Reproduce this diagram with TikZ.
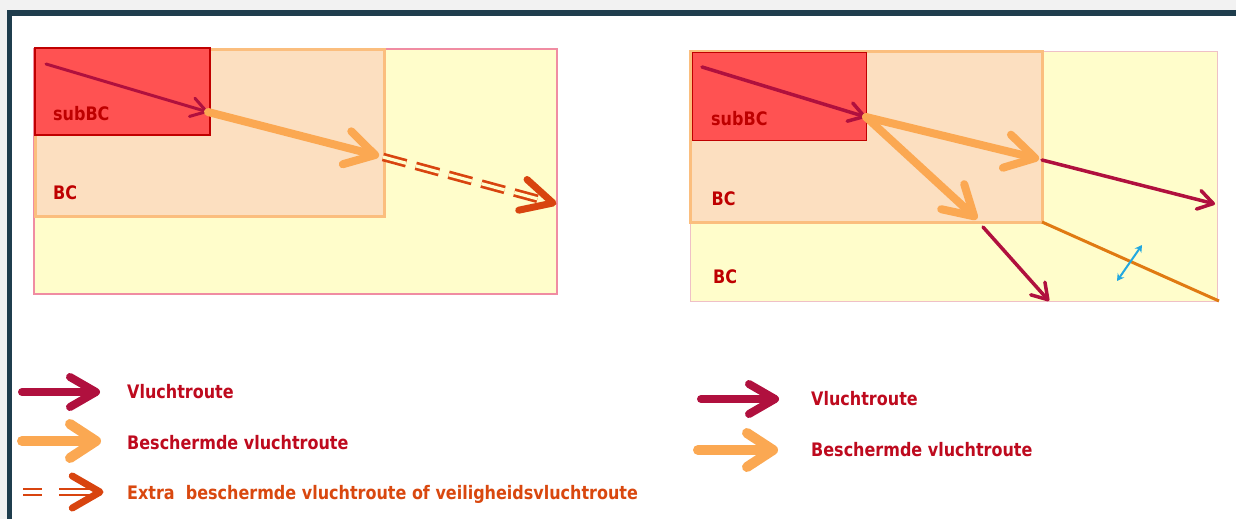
\documentclass[tikz,border=0pt]{standalone}
\usepackage{fontspec}
\setmainfont{DejaVu Sans}[FakeStretch=0.86]
\usetikzlibrary{arrows.meta,calc}
\definecolor{bgGray}{HTML}{F2F2F2}
\definecolor{frameC}{HTML}{1F3D4D}
\definecolor{yel}{HTML}{FFFDCB}
\definecolor{pinkB}{HTML}{F08CA2}
\definecolor{pinkB2}{HTML}{EFC0C6}
\definecolor{peach}{HTML}{FCDFC0}
\definecolor{peachB}{HTML}{FBBE7E}
\definecolor{redF}{HTML}{FF5252}
\definecolor{redB}{HTML}{C00000}
\definecolor{crimC}{HTML}{B0103E}
\definecolor{orC}{HTML}{FBA852}
\definecolor{extraC}{HTML}{D8440F}
\definecolor{lineO}{HTML}{E07A12}
\definecolor{cyanC}{HTML}{22A8E0}
\definecolor{labC}{HTML}{BE0000}
\definecolor{legC}{HTML}{BE0A1E}
\definecolor{legE}{HTML}{D9480F}
\tikzset{
  route/.style n args={4}{draw=#1,line width=#2,line cap=round,-{Straight Barb[round,length=#3,width=#4]}},
  lab/.style={anchor=base west,inner sep=0pt,text=labC,font=\fontsize{18.6}{22}\selectfont\bfseries},
  leg/.style={anchor=base west,inner sep=0pt,text=legC,font=\fontsize{18.6}{22}\selectfont\bfseries},
  dbl/.style={draw=extraC,line width=2.7pt,double distance=3.2pt},
  chev/.style={draw=extraC,line width=7pt,line cap=round,line join=round},
  yelbox/.style={fill=yel,draw=pinkB,line width=1.5pt},
  peachbox/.style={fill=peach,draw=peachB,line width=3pt},
  redbox/.style={fill=redF,draw=redB,line width=2.5pt}
}
\begin{document}
\begin{tikzpicture}[x=1pt,y=-1pt]
\useasboundingbox (0,0) rectangle (1236,519);
\fill[bgGray] (0,0) rectangle (1236,519);
\fill[frameC] (7,10) rectangle (1236,519);
\fill[white] (12,16) rectangle (1236,519);

% ---------- left diagram ----------
\draw[yelbox] (34,49) rectangle (557,294);
\draw[peachbox] (35,50) rectangle (384,216);
\draw[redbox] (35,48) rectangle (210,135);
\node[lab] (lsub) at (53,120.7) {subBC};
\node[lab] (lbc) at (53,199.3) {BC};

\coordinate (l1) at (46,64);
\coordinate (l2) at (208,112);
\coordinate (l3) at (379,156);
\coordinate (l4) at (383,157);
\coordinate (l5) at (553,203);
\draw[route={crimC}{3pt}{15pt}{19pt}] (l1) -- (l2);
\draw[route={orC}{8pt}{29pt}{34pt}] (l2) -- (l3);
\draw[dbl,double=yel,dash pattern=on 24pt off 10pt] (l4) -- ($(l5)!3pt!(l4)$);
\draw[chev] ($(l5)!35pt!27:(l4)$) -- (l5) -- ($(l5)!35pt!-27:(l4)$);

% ---------- right diagram ----------
\draw[yelbox,draw=pinkB2,line width=1pt] (690,52) rectangle (1217,301);
\draw[peachbox] (690,52) rectangle (1042,222);
\draw[redbox,line width=1pt] (692,53) rectangle (866,140);
\node[lab] (rsub) at (711,125.5) {subBC};
\node[lab] (rbc1) at (711.5,205) {BC};
\node[lab] (rbc2) at (713,283.3) {BC};

\coordinate (r1) at (702,67);
\coordinate (r2) at (866,117);
\coordinate (r3) at (1039,159);
\coordinate (r4) at (977,219);
\coordinate (r5) at (1042,160);
\coordinate (r6) at (1215,204);
\coordinate (r7) at (983,227);
\coordinate (r8) at (1049,301);
\coordinate (r9) at (1042,222);
\coordinate (r10) at (1219,301);
\coordinate (c1) at (1117,281);
\coordinate (c2) at (1142,245);
\draw[route={crimC}{3.5pt}{15pt}{19pt}] (r1) -- (r2);
\draw[route={orC}{8pt}{29pt}{34pt}] (r2) -- (r3);
\draw[route={orC}{8pt}{29pt}{34pt}] (r2) -- (r4);
\draw[route={crimC}{3.5pt}{15pt}{19pt}] (r5) -- (r6);
\draw[route={crimC}{3.5pt}{15pt}{19pt}] (r7) -- (r8);
\draw[draw=lineO,line width=3pt] (r9) -- (r10);
\draw[draw=cyanC,line width=2pt,{Stealth[length=7pt,width=8pt]}-{Stealth[length=7pt,width=8pt]}] (c1) -- (c2);

% ---------- left legend ----------
\coordinate (la1) at (22,392);
\coordinate (la2) at (100,392);
\coordinate (lb1) at (22,441);
\coordinate (lb2) at (101,441);
\coordinate (lc1) at (23,492);
\coordinate (lc2) at (42,492);
\coordinate (lc3) at (59,492);
\coordinate (lc4) at (99,492);
\coordinate (lc5) at (100,492);
\draw[route={crimC}{8pt}{26pt}{30pt}] (la1) -- (la2);
\draw[route={orC}{10pt}{26pt}{34pt}] (lb1) -- (lb2);
\draw[dbl,double=white] (lc1) -- (lc2);
\draw[dbl,double=white] (lc3) -- (lc4);
\draw[chev] ($(lc5)!32pt!30:(lc1)$) -- (lc5) -- ($(lc5)!32pt!-30:(lc1)$);
\node[leg] (t1) at (127,398.3) {Vluchtroute};
\node[leg] (t2) at (127,449.3) {Beschermde vluchtroute};
\node[leg,text=legE] (t3) at (127,499) {Extra~ beschermde vluchtroute of veiligheidsvluchtroute};

% ---------- right legend ----------
\coordinate (ra1) at (701,399);
\coordinate (ra2) at (779,399);
\coordinate (rb1) at (698,450);
\coordinate (rb2) at (778,450);
\draw[route={crimC}{8pt}{26pt}{30pt}] (ra1) -- (ra2);
\draw[route={orC}{10pt}{26pt}{34pt}] (rb1) -- (rb2);
\node[leg] (t4) at (811,405.7) {Vluchtroute};
\node[leg] (t5) at (811,456) {Beschermde vluchtroute};
\end{tikzpicture}
\end{document}
